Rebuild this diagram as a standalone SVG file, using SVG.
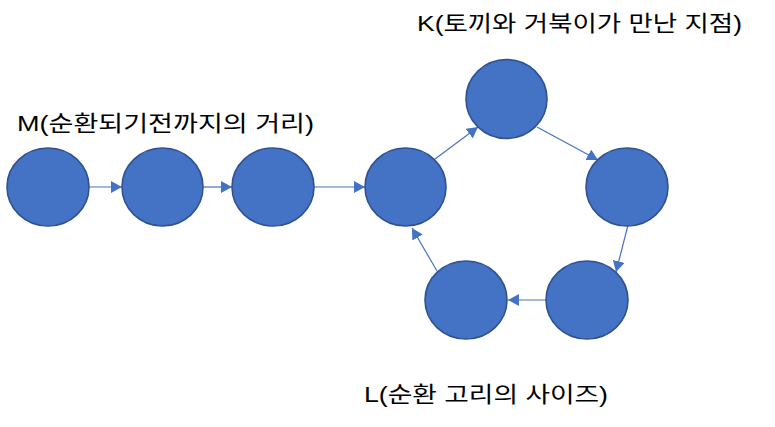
<svg xmlns="http://www.w3.org/2000/svg" width="775" height="427" viewBox="0 0 775 427">
<style>
.node{fill:#4472C4;stroke:#2F528F;stroke-width:1.6}
.edge{stroke:#4472C4;stroke-width:1.2;fill:none;marker-end:url(#arr)}
.lbl{font-family:"Liberation Sans","Noto Sans CJK KR",sans-serif;font-size:22px;fill:#000}
</style>
<defs>
<marker id="arr" markerUnits="userSpaceOnUse" markerWidth="12" markerHeight="12" viewBox="0 0 12 12" refX="11" refY="6" orient="auto">
<path d="M0,0 L11,6 L0,12 Z" fill="#4472C4"/>
</marker>
</defs>
<rect width="775" height="427" fill="#fff"/>
<g id="connectors">
<line class="edge" x1="89" y1="187" x2="122" y2="187"/>
<line class="edge" x1="203" y1="187" x2="232" y2="187"/>
<line class="edge" x1="314" y1="187" x2="365" y2="187"/>
<line class="edge" x1="435" y1="159" x2="478" y2="127"/>
<line class="edge" x1="537" y1="127" x2="598" y2="160"/>
<line class="edge" x1="628" y1="225" x2="616" y2="272"/>
<line class="edge" x1="546" y1="300" x2="508" y2="300"/>
<line class="edge" x1="437" y1="271" x2="412" y2="228"/>
</g>
<g id="n1"><ellipse class="node" cx="48" cy="187" rx="41" ry="39"/></g>
<g id="n2"><ellipse class="node" cx="162.5" cy="187" rx="40.5" ry="39"/></g>
<g id="n3"><ellipse class="node" cx="273" cy="187" rx="41" ry="39"/></g>
<g id="n4"><ellipse class="node" cx="405.5" cy="187" rx="40.5" ry="39"/></g>
<g id="n5"><ellipse class="node" cx="506.5" cy="99" rx="40.5" ry="39.5"/></g>
<g id="n6"><ellipse class="node" cx="627" cy="187" rx="41" ry="39"/></g>
<g id="n7"><ellipse class="node" cx="587" cy="300" rx="41" ry="39"/></g>
<g id="n8"><ellipse class="node" cx="466" cy="300" rx="41" ry="39"/></g>
<g id="labels">
<text class="lbl" x="17" y="131" textLength="297" lengthAdjust="spacingAndGlyphs">M(순환되기전까지의 거리)</text>
<text class="lbl" x="417" y="31" textLength="325" lengthAdjust="spacingAndGlyphs">K(토끼와 거북이가 만난 지점)</text>
<text class="lbl" x="364" y="402" textLength="244" lengthAdjust="spacingAndGlyphs">L(순환 고리의 사이즈)</text>
</g>
</svg>
